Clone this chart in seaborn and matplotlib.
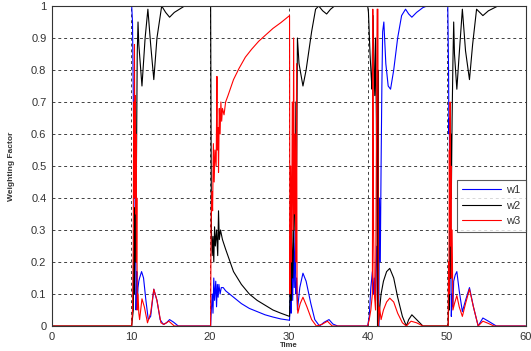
import matplotlib
matplotlib.use("Agg")
import matplotlib.pyplot as plt
import seaborn as sns

# Weighting factors of the three models over time (switching near t = 10, 20, 30, 40, 50)
w1_t = [0, 10.1, 10.2, 10.3, 10.35, 10.4, 10.45, 10.5, 10.55, 10.6, 10.65, 10.7, 10.75, 10.8, 10.9, 11.0, 11.1, 11.35,
        11.6, 11.9, 12.2, 12.5, 12.9, 13.3, 13.7, 14.1, 14.5, 14.9, 15.4, 16.0,
        20.1, 20.15, 20.3, 20.4, 20.5, 20.6, 20.75, 20.85, 20.95, 21.05, 21.15, 21.3, 21.45, 21.7, 22.0, 23.0, 24.0,
        25.0, 26.0, 27.0, 28.0, 29.0, 30.1,
        30.2, 30.3, 30.4, 30.5, 30.6, 30.7, 30.8, 30.9, 31.0, 31.1, 31.4, 31.8, 32.2, 32.8, 33.3, 33.9, 34.5, 35.1,
        35.6, 36.2,
        40.0, 40.2, 40.4, 40.6, 40.75, 40.85, 41.0, 41.1, 41.2, 41.3, 41.4, 41.5, 41.6, 41.7, 41.8, 41.9, 42.05, 42.3,
        42.6, 42.9, 43.3, 43.8, 44.3, 44.8, 45.2, 45.6, 46.2, 47.0, 47.5,
        50.15, 50.25, 50.3, 50.35, 50.4, 50.45, 50.5, 50.55, 50.6, 50.7, 50.8, 50.9, 51.1, 51.3, 51.6, 52.0, 52.4,
        52.9, 53.4, 54.0, 54.6, 55.3, 56.3, 60.0]
w1_v = [1, 1, 0.95, 0.72, 0.6, 0.68, 0.45, 0.55, 0.2, 0.3, 0.05, 0.12, 0.17, 0.06, 0.12, 0.14, 0.15, 0.17,
        0.15, 0.08, 0.02, 0.03, 0.115, 0.08, 0.02, 0.005, 0.01, 0.02, 0.012, 0.0,
        0.0, 0.03, 0.1, 0.04, 0.15, 0.08, 0.14, 0.06, 0.13, 0.09, 0.13, 0.1, 0.12, 0.12, 0.11, 0.09, 0.07,
        0.055, 0.045, 0.035, 0.028, 0.022, 0.018,
        0.1, 0.04, 0.2, 0.08, 0.26, 0.12, 0.3, 0.1, 0.15, 0.05, 0.12, 0.165, 0.14, 0.07, 0.02, 0.0, 0.012, 0.02,
        0.006, 0.0,
        0.0, 0.03, 0.12, 0.17, 0.1, 0.15, 0.08, 0.2, 0.25, 0.1, 0.0, 0.4, 0.2, 0.5, 0.75, 0.92, 0.95, 0.82,
        0.75, 0.74, 0.8, 0.9, 0.97, 0.99, 0.975, 0.965, 0.98, 0.995, 1.0,
        1.0, 0.8, 0.6, 0.65, 0.35, 0.4, 0.15, 0.2, 0.03, 0.1, 0.06, 0.14, 0.16, 0.17, 0.11, 0.045, 0.08,
        0.12, 0.06, 0.0, 0.025, 0.015, 0.0, 0.0]

w2_t = [0, 10.1, 10.3, 10.4, 10.45, 10.5, 10.55, 10.6, 10.7, 10.8, 10.9, 11.0, 11.4, 11.8, 12.15, 12.5, 12.9,
        13.3, 13.9, 14.4, 14.9, 15.5, 16.8,
        20.1, 20.2, 20.3, 20.4, 20.5, 20.6, 20.7, 20.85, 21.0, 21.1, 21.2, 21.35, 21.6, 22.0, 23.0, 24.0, 25.0,
        26.0, 27.0, 28.0, 29.0, 30.1,
        30.2, 30.3, 30.4, 30.5, 30.6, 30.7, 30.8, 30.9, 31.0, 31.1, 31.3, 31.8, 32.2, 32.9, 33.4, 33.8, 34.3,
        34.8, 35.3, 35.8,
        40.0, 40.1, 40.3, 40.45, 40.55, 40.6, 40.7, 40.8, 40.9, 41.0, 41.1, 41.2, 41.25, 41.3, 41.35, 41.5, 41.7,
        42.0, 42.4, 42.8, 43.3, 43.8, 44.4, 44.9, 45.2, 45.6, 46.2, 47.0,
        50.2, 50.3, 50.35, 50.45, 50.5, 50.55, 50.6, 50.7, 50.8, 50.9, 51.0, 51.3, 51.6, 52.0, 52.4, 52.9, 53.3,
        53.8, 54.2, 54.6, 55.3, 56.5, 60.0]
w2_v = [0, 0, 0.05, 0.3, 0.1, 0.37, 0.2, 0.35, 0.5, 0.85, 0.95, 0.88, 0.75, 0.9, 0.99, 0.88, 0.77,
        0.9, 1.0, 0.98, 0.965, 0.98, 1.0,
        1.0, 0.3, 0.22, 0.28, 0.2, 0.31, 0.25, 0.3, 0.22, 0.36, 0.27, 0.3, 0.27, 0.24, 0.17, 0.13, 0.1,
        0.08, 0.065, 0.05, 0.04, 0.03,
        0.15, 0.08, 0.3, 0.15, 0.25, 0.5, 0.3, 0.7, 0.5, 0.9, 0.82, 0.75, 0.8, 0.92, 0.99, 1.0, 0.985,
        0.975, 0.99, 1.0,
        1.0, 0.98, 0.85, 0.78, 0.74, 0.85, 0.97, 0.8, 0.72, 0.9, 0.65, 0.3, 0.0, 0.8, 0.0, 0.05, 0.1,
        0.14, 0.17, 0.18, 0.15, 0.09, 0.03, 0.0, 0.02, 0.035, 0.02, 0.0,
        0.0, 0.1, 0.05, 0.3, 0.15, 0.6, 0.4, 0.65, 0.82, 0.95, 0.85, 0.74, 0.85, 0.99, 0.86, 0.77, 0.88,
        0.99, 0.98, 0.97, 0.985, 1.0, 1.0]

w3_t = [0, 10.1, 10.2, 10.3, 10.35, 10.4, 10.45, 10.5, 10.55, 10.6, 10.65, 10.7, 10.75, 10.8, 10.9, 11.0, 11.1,
        11.4, 11.7, 12.1, 12.5, 12.9, 13.3, 13.8, 14.2, 14.8, 15.5,
        20.1, 20.15, 20.25, 20.35, 20.45, 20.55, 20.65, 20.8, 20.9, 20.95, 21.05, 21.1, 21.2, 21.3, 21.4, 21.5,
        21.6, 21.8, 22.0, 22.3, 23.0, 23.7, 24.5, 25.3, 26.2, 27.1, 28.0, 29.0, 30.1,
        30.15, 30.25, 30.35, 30.45, 30.55, 30.62, 30.7, 30.8, 30.9, 31.0, 31.05, 31.15, 31.45, 31.8, 32.3, 32.9,
        33.5, 34.2, 34.9, 35.5,
        40.0, 40.2, 40.4, 40.6, 40.65, 40.75, 40.85, 41.0, 41.2, 41.3, 41.35, 41.5, 41.7, 42.0, 42.4, 42.8, 43.3,
        43.8, 44.4, 44.9, 45.5, 46.2, 47.0,
        50.2, 50.25, 50.3, 50.35, 50.4, 50.45, 50.5, 50.55, 50.6, 50.7, 50.8, 51.0, 51.3, 51.6, 52.0, 52.4, 52.9,
        53.4, 54.0, 54.6, 55.3, 56.0, 60.0]
w3_v = [0, 0, 0.05, 0.25, 0.7, 0.4, 0.88, 0.5, 0.72, 0.35, 0.6, 0.2, 0.4, 0.05, 0.1, 0.04, 0.02,
        0.085, 0.06, 0.01, 0.04, 0.115, 0.08, 0.01, 0.005, 0.015, 0.0,
        0.0, 0.3, 0.42, 0.36, 0.57, 0.45, 0.55, 0.5, 0.78, 0.55, 0.62, 0.48, 0.68, 0.6, 0.7, 0.64,
        0.68, 0.66, 0.7, 0.72, 0.77, 0.805, 0.84, 0.865, 0.89, 0.91, 0.93, 0.948, 0.97,
        0.1, 0.5, 0.2, 0.7, 0.3, 0.9, 0.35, 0.6, 0.2, 0.82, 0.1, 0.04, 0.07, 0.09, 0.06, 0.02,
        0.0, 0.005, 0.015, 0.0,
        0.0, 0.02, 0.05, 0.1, 0.99, 0.3, 0.1, 0.05, 0.99, 0.99, 0.0, 0.06, 0.02, 0.05, 0.075, 0.087, 0.075,
        0.04, 0.01, 0.0, 0.015, 0.01, 0.0,
        0.0, 0.2, 0.1, 0.55, 0.3, 0.7, 0.25, 0.5, 0.15, 0.3, 0.05, 0.07, 0.095, 0.06, 0.03, 0.07, 0.115,
        0.06, 0.0, 0.015, 0.008, 0.0, 0.0]

series = [("w1", w1_t, w1_v, "#0000ff"),
          ("w2", w2_t, w2_v, "#000000"),
          ("w3", w3_t, w3_v, "#ff0000")]

x_ticks = [0, 10, 20, 30, 40, 50, 60]
y_ticks = [0, 0.1, 0.2, 0.3, 0.4, 0.5, 0.6, 0.7, 0.8, 0.9, 1]
y_tick_labels = ["0", "0.1", "0.2", "0.3", "0.4", "0.5", "0.6", "0.7", "0.8", "0.9", "1"]

sns.set_theme(style="white")
plt.rcParams["font.family"] = ["Liberation Sans", "DejaVu Sans"]

fig = plt.figure(figsize=(5.31, 3.51), dpi=100)
ax = fig.add_axes([52 / 531, 1 - 326 / 351, 473.5 / 531, 320 / 351])

for name, t, v, color in series:
    sns.lineplot(x=t, y=v, ax=ax, color=color, linewidth=0.8, sort=False,
                 estimator=None, label=name)

ax.set_xlim(0, 60)
ax.set_ylim(0, 1)
ax.set_xticks(x_ticks)
ax.set_yticks(y_ticks)
ax.set_yticklabels(y_tick_labels)
ax.tick_params(axis="both", labelsize=8, direction="in", length=3, pad=4,
               colors="#222222", labelcolor="#333333")

ax.grid(True, color="#222222", linestyle=(0, (3.5, 3.5)), linewidth=0.6)
ax.set_axisbelow(True)
for sp in ax.spines.values():
    sp.set_color("#333333")
    sp.set_linewidth(0.8)

ax.set_ylabel("Weighting Factor", fontsize=6, fontweight="bold", color="#333333")
ax.yaxis.set_label_coords(-0.078, 0.5)
ax.set_xlabel("Time", fontsize=5.5, fontweight="bold", color="#333333")
ax.xaxis.set_label_coords(0.5, -0.05)

leg = ax.legend(loc="lower right", bbox_to_anchor=(1.0, 0.294), borderaxespad=0,
                fontsize=8, frameon=True, fancybox=False, handlelength=3.5,
                labelspacing=0.5, borderpad=0.5, handletextpad=0.4)
leg.get_frame().set_edgecolor("#333333")
leg.get_frame().set_linewidth(0.8)
for txt in leg.get_texts():
    txt.set_color("#333333")

fig.savefig("out.png", dpi=100)
